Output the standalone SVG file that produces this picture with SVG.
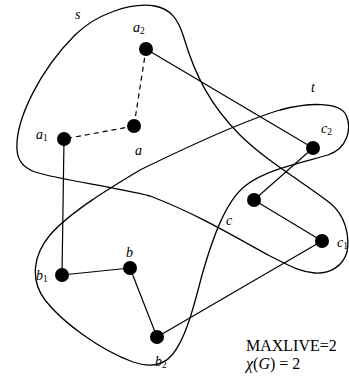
<svg xmlns="http://www.w3.org/2000/svg" width="349" height="385" viewBox="0 0 349 385">
<style>
.loop{fill:none;stroke:#000;stroke-width:1.3}
.e{stroke:#000;stroke-width:1.2;fill:none}
.d{stroke-dasharray:5,4}
.n{fill:#000}
.lb{font-family:"Liberation Serif","Times New Roman",serif;font-style:italic;font-size:14px;fill:#000}
.sub{font-style:normal;font-size:9.5px}
.tx{font-family:"Liberation Serif","Times New Roman",serif;font-size:16px;fill:#000}
</style>
<rect width="349" height="385" fill="#fff"/>
<g id="regions">
<path id="s" class="loop" d="M17,150 C15,120 40,70 75,35 C95,15 130,2 155,6 C170,9 178,18 184,38 C195,75 210,105 240,135 C265,160 300,180 330,203 C345,215 350,235 347,252 C343,266 330,274 315,273 C300,272 290,266 270,256 C240,240 200,215 150,196 C110,186 60,180 35,172 C22,167 18,160 17,150 Z"/>
<path id="t" class="loop" d="M140,170 C185,148 240,122 280,110 C310,102 340,102 346,115 C352,128 348,148 328,155 C300,163 265,170 245,186 C225,202 212,240 202,275 C193,310 185,340 172,355 C162,367 148,367 133,362 C100,350 62,322 45,300 C30,280 33,255 50,235 C70,212 110,188 140,170 Z"/>
</g>
<g id="connectors">
<line class="e d" x1="146" y1="49" x2="134" y2="126"/>
<line class="e d" x1="134" y1="126" x2="64" y2="139"/>
<line class="e" x1="146" y1="49" x2="313" y2="148"/>
<line class="e" x1="64" y1="139" x2="62" y2="275"/>
<line class="e" x1="62" y1="275" x2="130" y2="268"/>
<line class="e" x1="130" y1="268" x2="157" y2="337"/>
<line class="e" x1="157" y1="337" x2="322" y2="241"/>
<line class="e" x1="322" y1="241" x2="254" y2="200"/>
<line class="e" x1="254" y1="200" x2="313" y2="148"/>
</g>
<g id="node-a2"><circle class="n" cx="146" cy="49" r="7"/><text class="lb" x="133" y="32">a<tspan class="sub" dy="2">2</tspan></text></g>
<g id="node-a"><circle class="n" cx="134" cy="126" r="7"/><text class="lb" x="135" y="155">a</text></g>
<g id="node-a1"><circle class="n" cx="64" cy="139" r="7"/><text class="lb" x="36" y="139">a<tspan class="sub" dy="2">1</tspan></text></g>
<g id="node-c2"><circle class="n" cx="313" cy="148" r="7"/><text class="lb" x="321" y="133">c<tspan class="sub" dy="2">2</tspan></text></g>
<g id="node-c"><circle class="n" cx="254" cy="200" r="7"/><text class="lb" x="226" y="225">c</text></g>
<g id="node-c1"><circle class="n" cx="322" cy="241" r="7"/><text class="lb" x="337" y="247">c<tspan class="sub" dy="2">1</tspan></text></g>
<g id="node-b"><circle class="n" cx="130" cy="268" r="7"/><text class="lb" x="126" y="257">b</text></g>
<g id="node-b1"><circle class="n" cx="62" cy="275" r="7"/><text class="lb" x="36" y="280">b<tspan class="sub" dy="2">1</tspan></text></g>
<g id="node-b2"><circle class="n" cx="157" cy="337" r="7"/><text class="lb" x="155" y="366">b<tspan class="sub" dy="2">2</tspan></text></g>
<text class="lb" x="75" y="19">s</text>
<text class="lb" x="311" y="92">t</text>
<text class="tx" x="246" y="351">MAXLIVE=2</text>
<text class="tx" x="246" y="369"><tspan font-style="italic">χ</tspan>(<tspan font-style="italic">G</tspan>) = 2</text>
</svg>
